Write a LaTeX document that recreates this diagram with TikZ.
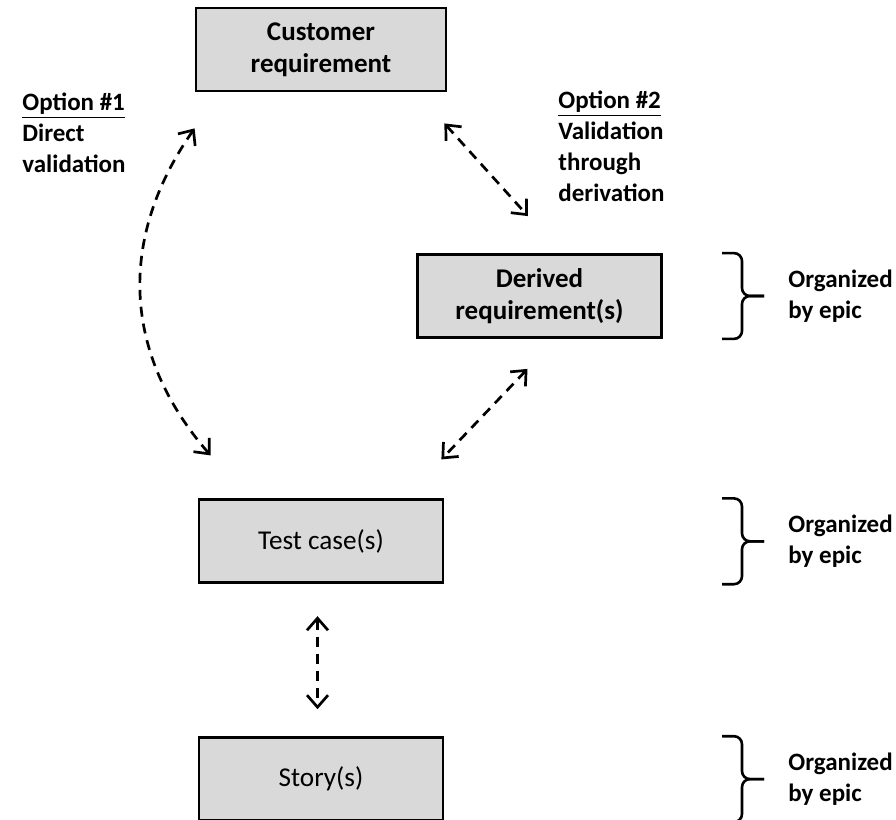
\documentclass[tikz,border=0pt]{standalone}
\usepackage{fontspec}
\setmainfont{Carlito}
\usetikzlibrary{positioning,arrows.meta}

\definecolor{boxgray}{RGB}{217,217,217}

\begin{document}
\begin{tikzpicture}[x=0.5pt, y=-0.5pt, >={Straight Barb[length=6pt,width=10.5pt]},
    every node/.style={font=\fontsize{12.5}{15.5}\selectfont\bfseries},
    reqbox/.style={draw, line width=1.4pt, fill=boxgray, minimum width=122pt, minimum height=41.5pt, align=center, inner sep=2pt, font=\fontsize{13.5}{16}\selectfont\bfseries},
    plaintext/.style={font=\fontsize{13.6}{16}\selectfont\mdseries},
    note/.style={anchor=west, align=left, inner sep=0pt},
    link/.style={<->, line width=1.35pt, dash pattern=on 5pt off 3.5pt},
    brk/.style={line width=1.3pt, rounded corners=4pt}]
  \useasboundingbox (0,0) rectangle (896,820);

  % requirement boxes
  \node[reqbox, minimum width=125pt] (cust) at (321,49.5) {Customer\\requirement};
  \node[reqbox] (derived) at (539.5,296) {Derived\\requirement(s)};
  \node[reqbox, plaintext, below=203pt of cust.south, anchor=north] (test) {Test case(s)};
  \node[reqbox, plaintext, below=76pt of test] (story) {Story(s)};

  % options
  \node[note] (opt1) at (22,133) {\underline{Option \#1}\\Direct\\validation};
  \node[note] (opt2) at (558,146) {\underline{Option \#2}\\Validation\\through\\derivation};

  % dashed links
  \draw[link] ([yshift=-18pt]cust.south west) to[out=235, in=131, looseness=1.05] ([xshift=6.5pt,yshift=21.5pt]test.north west);
  \draw[link] ([xshift=-1.5pt,yshift=-15.5pt]cust.south east) -- ([xshift=-5.75pt,yshift=18.5pt]derived.north);
  \draw[link] ([xshift=-6pt,yshift=-15pt]derived.south) -- ([xshift=-1.5pt,yshift=19.5pt]test.north east);
  \draw[link] ([xshift=-1.75pt,yshift=-16pt]test.south) -- ([xshift=-1.75pt,yshift=13.5pt]story.north);

  % braces
  \coordinate (bx) at (722,0);
  \coordinate (vx) at (742,0);
  \coordinate (tx) at (764,0);
  \coordinate (lx) at (788,0);
  \foreach \n in {derived,test,story} {
    \draw[brk] (bx |- \n.north) -| (vx |- \n.center) -- (tx |- \n.center);
    \draw[brk] (bx |- \n.south) -| (vx |- \n.center) -- (tx |- \n.center);
  }
  \node[note] (org1) at (lx |- derived) {Organized\\by epic};
  \node[note] (org2) at (lx |- test) {Organized\\by epic};
  \node[note] (org3) at (lx |- story) {Organized\\by epic};
\end{tikzpicture}
\end{document}
